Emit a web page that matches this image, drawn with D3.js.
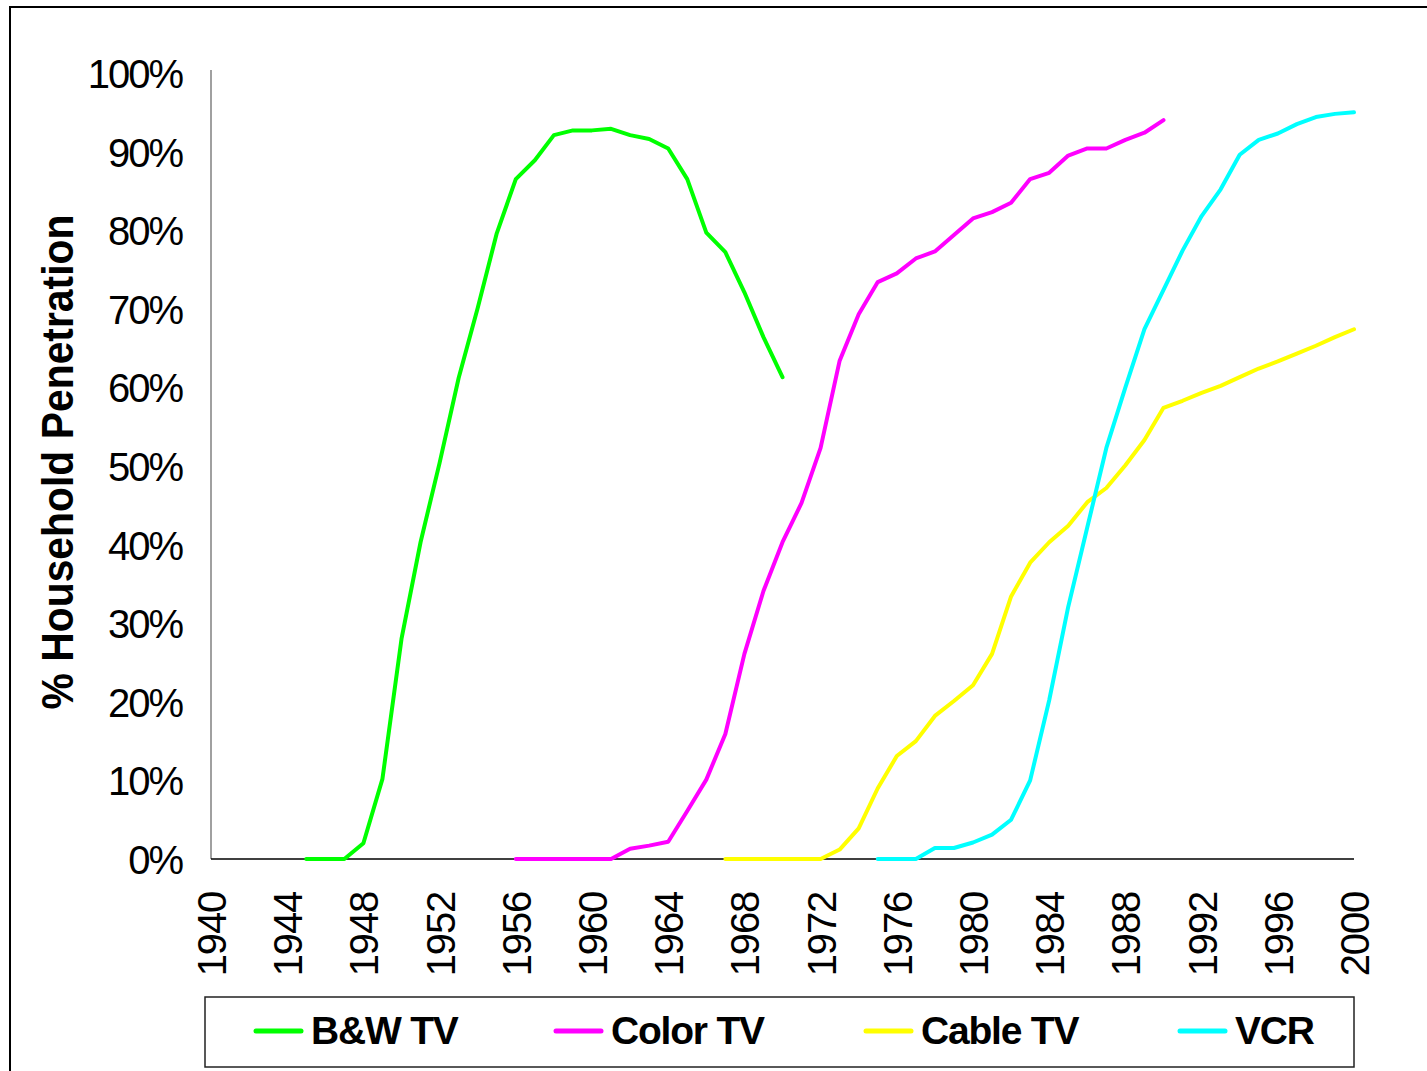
<!DOCTYPE html>
<html>
<head>
<meta charset="utf-8">
<script src="https://cdn.jsdelivr.net/npm/d3@7"></script>
<style>
  html, body { margin: 0; padding: 0; background: #ffffff; }
  svg { display: block; }
  text { font-family: "Liberation Sans", Arial, Helvetica, sans-serif; }
</style>
</head>
<body>
<svg id="chart" width="1427" height="1071"></svg>
<script>
// Household penetration (%) by year for each technology
const seriesNames = ["B&W TV", "Color TV", "Cable TV", "VCR"];
const seriesColors = ["#00ff00", "#ff00ff", "#ffff00", "#00ffff"];

const bwStartYear = 1945;
const bwValues = [0, 0, 0, 2.0, 10.2, 28.0, 40.3, 50.4, 61.2, 70.1, 79.6, 86.5, 88.9,
  92.1, 92.7, 92.7, 92.9, 92.1, 91.6, 90.4, 86.5, 79.7, 77.2, 72.1, 66.4, 61.3];

const colorStartYear = 1956;
const colorValues = [0, 0, 0, 0, 0, 0, 1.3, 1.7, 2.2, 6.1, 10.1, 15.9, 26.1, 34.1, 40.3,
  45.3, 52.3, 63.4, 69.3, 73.4, 74.5, 76.4, 77.3, 79.4, 81.5, 82.3, 83.5, 86.5, 87.3,
  89.5, 90.4, 90.4, 91.5, 92.4, 94.0];

const cableStartYear = 1967;
const cableValues = [0, 0, 0, 0, 0, 0, 1.2, 3.9, 9.0, 13.1, 15.0, 18.2, 20.1, 22.1, 26.1,
  33.4, 37.7, 40.3, 42.4, 45.4, 47.2, 50.1, 53.3, 57.4, 58.3, 59.3, 60.2, 61.3, 62.4,
  63.3, 64.3, 65.3, 66.4, 67.4];

const vcrStartYear = 1975;
const vcrValues = [0, 0, 0, 1.4, 1.4, 2.1, 3.1, 5.0, 10.0, 20.2, 32.1, 42.2, 52.3, 60.0,
  67.4, 72.4, 77.4, 81.8, 85.2, 89.6, 91.5, 92.3, 93.5, 94.4, 94.8, 95.0];

const yTickValues = [0, 10, 20, 30, 40, 50, 60, 70, 80, 90, 100];
const xTickValues = [1940, 1944, 1948, 1952, 1956, 1960, 1964, 1968, 1972, 1976, 1980,
  1984, 1988, 1992, 1996, 2000];
const yAxisTitle = "% Household Penetration";

// ---- build series table ----
function toPoints(start, values) {
  return values.map((v, i) => ({ year: start + i, value: v }));
}
const series = [
  toPoints(bwStartYear, bwValues),
  toPoints(colorStartYear, colorValues),
  toPoints(cableStartYear, cableValues),
  toPoints(vcrStartYear, vcrValues)
].map((pts, i) => ({ name: seriesNames[i], color: seriesColors[i], points: pts }));

// ---- layout ----
const plot = { left: 211, right: 1354, top: 73, bottom: 859 };
const svg = d3.select("#chart");

// outer frame (runs off the right and bottom of the page)
svg.append("rect")
  .attr("x", 10).attr("y", 7)
  .attr("width", 1600).attr("height", 1300)
  .attr("fill", "#ffffff")
  .attr("stroke", "#000000").attr("stroke-width", 2);

const x = d3.scaleLinear().domain([1940, 2000]).range([plot.left, plot.right]);
const y = d3.scaleLinear().domain([0, 100]).range([plot.bottom, plot.top]);

// y axis
const yAxis = svg.append("g")
  .attr("transform", `translate(${plot.left},0)`)
  .call(d3.axisLeft(y).tickValues(yTickValues).tickSize(0).tickPadding(29)
    .tickFormat(d => d + "%"));
yAxis.select(".domain")
  .attr("d", `M0,${plot.top - 3}V${plot.bottom}`)
  .attr("stroke", "#808080").attr("stroke-width", 1.5);
yAxis.selectAll(".tick text")
  .attr("fill", "#000")
  .attr("dy", "0.36em")
  .style("font-size", "40px")
  .style("letter-spacing", "-2px")
  .style("font-family", "'Liberation Sans', Arial, sans-serif");

// x axis
const xAxis = svg.append("g")
  .attr("transform", `translate(0,${plot.bottom})`)
  .call(d3.axisBottom(x).tickValues(xTickValues).tickSize(0).tickFormat(d3.format("d")));
xAxis.select(".domain")
  .attr("d", `M${plot.left},0H${plot.right}`)
  .attr("stroke", "#000000").attr("stroke-width", 1.5);
xAxis.selectAll(".tick text")
  .attr("fill", "#000")
  .attr("transform", "rotate(-90)")
  .attr("text-anchor", "end")
  .attr("x", -33).attr("y", 0).attr("dy", "0.36em")
  .style("font-size", "40px")
  .style("letter-spacing", "-1.2px")
  .style("font-family", "'Liberation Sans', Arial, sans-serif");

// axis title
svg.append("text")
  .attr("transform", "translate(73,462) rotate(-90)")
  .attr("text-anchor", "middle")
  .attr("font-weight", "bold")
  .attr("font-size", 45)
  .attr("textLength", 495)
  .attr("lengthAdjust", "spacingAndGlyphs")
  .attr("fill", "#000")
  .text(yAxisTitle);

// series lines
const line = d3.line().x(d => x(d.year)).y(d => y(d.value));
svg.append("g").selectAll("path")
  .data(series)
  .join("path")
  .attr("d", d => line(d.points))
  .attr("fill", "none")
  .attr("stroke", d => d.color)
  .attr("stroke-width", 4)
  .attr("stroke-linejoin", "round")
  .attr("stroke-linecap", "round");

// legend
const legend = svg.append("g");
legend.append("rect")
  .attr("x", 205).attr("y", 997)
  .attr("width", 1149).attr("height", 70)
  .attr("fill", "#fff")
  .attr("stroke", "#222").attr("stroke-width", 1.5);
const legendX = [256, 556, 866, 1180];
const items = legend.selectAll("g.item")
  .data(series)
  .join("g")
  .attr("class", "item")
  .attr("transform", (d, i) => `translate(${legendX[i]},1031)`);
items.append("line")
  .attr("x1", 0).attr("x2", 45).attr("y1", 0).attr("y2", 0)
  .attr("stroke", d => d.color)
  .attr("stroke-width", 5)
  .attr("stroke-linecap", "round");
items.append("text")
  .attr("x", 55).attr("y", 13)
  .attr("font-weight", "bold")
  .attr("font-size", 39)
  .style("letter-spacing", "-1.2px")
  .attr("fill", "#000")
  .text(d => d.name);
</script>
</body>
</html>
